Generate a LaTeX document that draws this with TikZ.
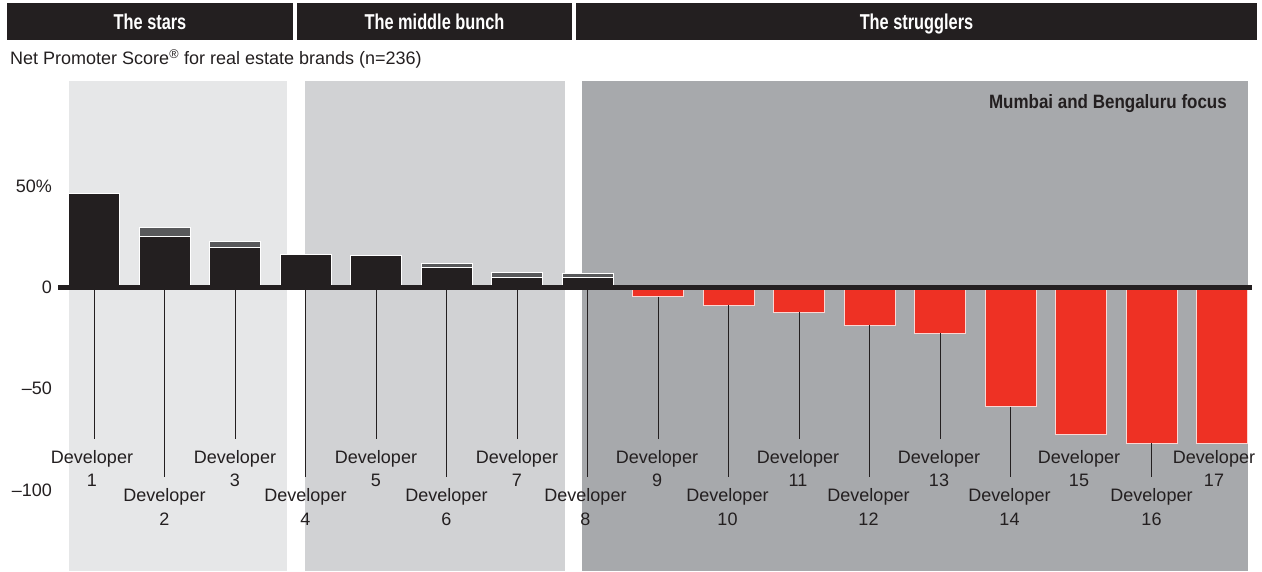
\documentclass[tikz,border=0pt]{standalone}
\usepackage{fontspec}
\setmainfont{Liberation Sans}
\newfontfamily\hdfont[FakeStretch=0.76]{Liberation Sans Bold}
\newfontfamily\mbfont[FakeStretch=0.88]{Liberation Sans Bold}
\definecolor{ink}{HTML}{231F20}
\definecolor{extgray}{HTML}{58595B}
\definecolor{pstar}{HTML}{E6E7E8}
\definecolor{pmid}{HTML}{D1D2D4}
\definecolor{pstr}{HTML}{A7A9AC}
\definecolor{barred}{HTML}{EE3124}
\tikzset{
  hdr/.style={fill=ink, text=white, inner sep=0, outer sep=0, minimum height=37pt,
    text height=15pt, text depth=0pt, font=\hdfont\fontsize{21.5}{22}\selectfont},
  posbar/.style={fill=ink, draw=white, line width=0.8pt, minimum width=51pt,
    inner sep=0, outer sep=0, anchor=south},
  extbar/.style={posbar, fill=extgray},
  negbar/.style={fill=barred, draw=white!80!barred, line width=0.8pt, minimum width=51pt,
    inner sep=0, outer sep=0, anchor=north},
  zline/.style={ink, line width=5pt},
  tickline/.style={ink, line width=0.9pt},
  devlab/.style={anchor=north, inner sep=0, outer sep=0, align=center, text=ink,
    font=\fontsize{18}{23.4}\selectfont},
  axlab/.style={anchor=base east, inner sep=0, text=ink, font=\fontsize{18}{20}\selectfont}
}
\begin{document}
\begin{tikzpicture}[x=1pt,y=-1pt]
\useasboundingbox (0,0) rectangle (1262,571);
% background panels
\fill[pstar] (69,81) rectangle (287,571);
\fill[pmid] (305,81) rectangle (565,571);
\fill[pstr] (582,81) rectangle (1248,571);
% header bars
\node[hdr, minimum width=286pt] (hstars) at (150,21.5) {The stars};
\node[hdr, minimum width=275pt] (hmid) at (434.5,21.5) {The middle bunch};
\node[hdr, minimum width=681pt] (hstr) at (916.5,21.5) {The strugglers};
% subtitle
\node[anchor=base west, inner sep=0, text=ink, font=\fontsize{18}{20}\selectfont] (sub) at (10,64.3)
  {Net Promoter Score\textsuperscript{®} for real estate brands (n=236)};
\node[anchor=base east, inner sep=0, text=ink, font=\mbfont\fontsize{19.3}{20}\selectfont] (focus) at (1227,108.3)
  {Mumbai and Bengaluru focus};
% axis labels
\node[axlab] (y50) at (52,192.5) {50\%};
\node[axlab] (y0) at (52,293) {0};
\node[axlab] (ym50) at (52,394.5) {\textendash50};
\node[axlab] (ym100) at (52,496) {\textendash100};
% positive bars
\foreach \i/\t in {1/193.3, 2/236.7, 3/247, 4/254, 5/255.3, 6/267.3, 7/277, 8/277.3}{
  \node[posbar, minimum height={288-\t}] (b\i) at ({94+(\i-1)*70.5},288) {};
}
\foreach \i/\t/\g in {2/236.7/227, 3/247/241.7, 6/267.3/263.3, 7/277/272.3, 8/277.3/273}{
  \node[extbar, minimum height={\t-\g}] (g\i) at (b\i.north) {};
}
% negative bars
\foreach \i/\b in {9/296.7, 10/305.3, 11/312, 12/325, 13/333, 14/406.7, 15/434.7, 16/443, 17/443}{
  \node[negbar, minimum height={\b-288}] (b\i) at ({94+(\i-1)*70.5},288) {};
}
% zero line
\coordinate (z0) at (58,287.5);
\coordinate (z1) at (1252,287.5);
\draw[zline] (z0) -- (z1);
% labels
\foreach \i/\dx in {1/-2,2/0,3/0,4/0,5/0,6/0,7/0,8/-2,9/-1,10/-1,11/-1,12/-1,13/-1,14/-1,15/-2,16/0,17/-8}{
  \pgfmathsetmacro\ly{isodd(\i) ? 450.3 : 488.7}
  \node[devlab] (l\i) at ({94+(\i-1)*70.5+\dx},\ly) {Developer\\\i};
  \coordinate (e\i) at ([yshift=11.5pt]l\i.north);
}
% ticks
\foreach \i in {1,...,8}{
  \draw[tickline] (b\i.south |- z0) -- (b\i.south |- e\i);
}
\foreach \i in {9,10,11,12,13,14,16}{
  \draw[tickline] (b\i.south) -- (b\i.south |- e\i);
}
\end{tikzpicture}
\end{document}
